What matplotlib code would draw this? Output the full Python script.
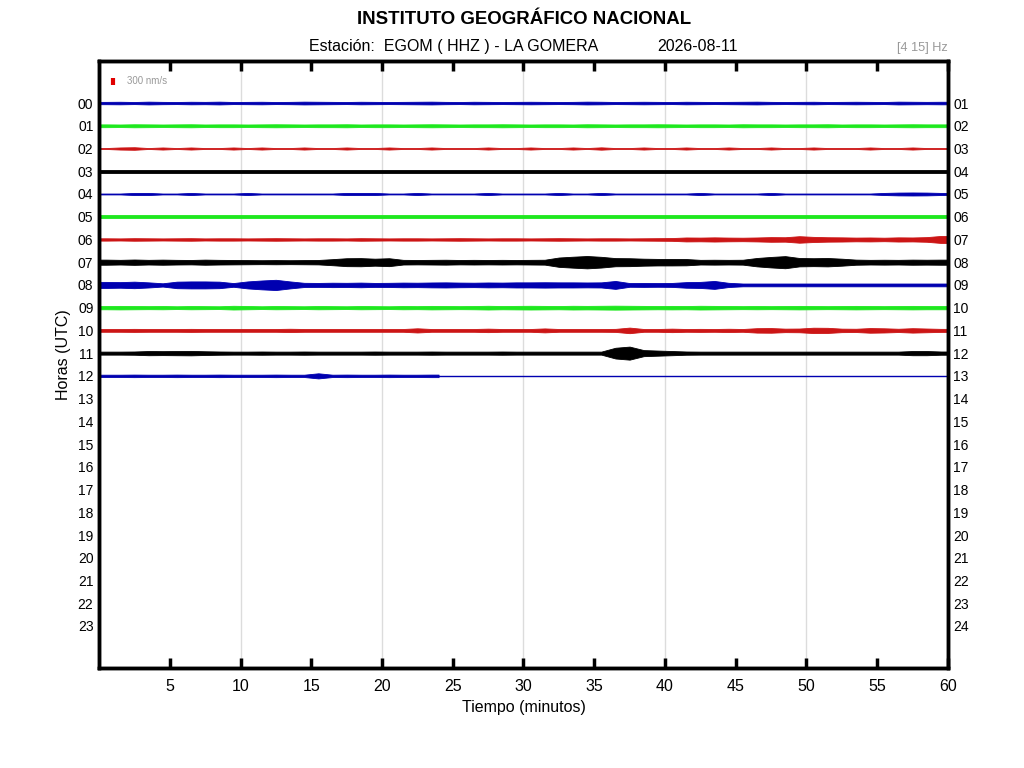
import numpy as np
import matplotlib
matplotlib.use("Agg")
import matplotlib.pyplot as plt

plt.rcParams['font.family'] = ['Liberation Sans', 'DejaVu Sans']

# half-amplitude envelope of each hourly trace, nm/s, one value per minute
hours = ["00", "01", "02", "03", "04", "05", "06", "07", "08", "09", "10", "11", "12"]
env = {
    "00": [50, 55, 45, 60, 50, 45, 55, 50, 60, 45, 50, 55, 45, 50, 60, 55, 50, 45, 55, 50,
           45, 50, 55, 60, 50, 45, 55, 50, 45, 50, 55, 50, 45, 50, 60, 55, 45, 50, 55, 50,
           45, 55, 50, 45, 50, 55, 60, 50, 45, 50, 55, 45, 50, 55, 50, 45, 60, 55, 50, 55],
    "01": [60, 55, 65, 60, 55, 60, 65, 55, 60, 60, 55, 60, 65, 60, 55, 60, 60, 65, 55, 60,
           60, 55, 60, 65, 60, 55, 60, 60, 65, 60, 55, 60, 60, 55, 65, 60, 55, 60, 60, 65,
           60, 55, 60, 60, 55, 65, 60, 60, 55, 60, 60, 65, 55, 60, 60, 55, 60, 65, 60, 60],
    "02": [20, 45, 55, 20, 45, 20, 45, 20, 20, 45, 20, 45, 20, 20, 45, 20, 20, 45, 20, 20,
           45, 20, 20, 45, 20, 20, 20, 45, 20, 20, 45, 20, 20, 45, 20, 50, 20, 20, 45, 20,
           20, 45, 20, 20, 45, 20, 20, 45, 20, 20, 45, 20, 20, 20, 45, 20, 20, 45, 20, 20],
    "03": [55, 55, 55, 55, 55, 55, 55, 55, 55, 55, 55, 55, 55, 55, 55, 55, 55, 55, 55, 55,
           55, 55, 55, 55, 55, 55, 55, 55, 55, 55, 55, 55, 55, 55, 55, 55, 55, 55, 55, 55,
           55, 55, 55, 55, 55, 55, 55, 55, 55, 55, 55, 55, 55, 55, 55, 55, 55, 55, 55, 55],
    "04": [20, 20, 45, 45, 20, 20, 45, 20, 20, 20, 45, 20, 20, 20, 20, 20, 20, 45, 45, 45,
           20, 20, 45, 20, 20, 20, 20, 45, 20, 20, 20, 20, 45, 20, 20, 45, 20, 20, 20, 20,
           20, 20, 45, 20, 20, 20, 20, 45, 20, 20, 20, 20, 20, 20, 20, 45, 60, 65, 60, 45],
    "05": [55, 55, 55, 55, 55, 55, 55, 55, 55, 55, 55, 55, 55, 55, 55, 55, 55, 55, 55, 55,
           55, 55, 55, 55, 55, 55, 55, 55, 55, 55, 55, 55, 55, 55, 55, 55, 55, 55, 55, 55,
           55, 55, 55, 55, 55, 55, 55, 55, 55, 55, 55, 55, 55, 55, 55, 55, 55, 55, 55, 55],
    "06": [50, 45, 55, 50, 45, 50, 55, 45, 50, 50, 45, 50, 55, 50, 45, 50, 50, 45, 55, 50,
           45, 50, 50, 45, 50, 55, 50, 45, 50, 50, 45, 50, 55, 50, 45, 50, 50, 45, 50, 55,
           60, 85, 80, 90, 80, 75, 85, 100, 95, 140, 110, 95, 90, 80, 85, 75, 90, 85, 100, 150],
    "07": [110, 100, 115, 100, 110, 100, 95, 110, 100, 95, 90, 85, 90, 85, 90, 95, 130, 170, 175, 150,
           170, 100, 95, 100, 105, 95, 100, 95, 100, 95, 100, 105, 200, 235, 265, 230, 175, 170, 150, 140,
           140, 135, 100, 105, 100, 105, 180, 225, 260, 180, 170, 180, 150, 110, 100, 105, 100, 110, 105, 110],
    "08": [130, 120, 140, 110, 70, 140, 150, 150, 140, 80, 150, 190, 220, 150, 90, 85, 95, 90, 100, 85,
           90, 100, 95, 105, 110, 100, 95, 105, 100, 110, 110, 115, 110, 110, 105, 110, 170, 80, 85, 80,
           85, 120, 130, 170, 90, 60, 60, 60, 60, 60, 60, 60, 60, 60, 60, 60, 60, 60, 60, 60],
    "09": [70, 75, 70, 65, 70, 60, 70, 65, 60, 80, 70, 60, 70, 65, 60, 70, 65, 60, 70, 65,
           60, 70, 65, 75, 70, 65, 70, 80, 70, 75, 80, 75, 70, 80, 75, 80, 85, 80, 75, 70,
           75, 70, 80, 75, 70, 65, 70, 65, 70, 75, 70, 65, 70, 75, 70, 65, 70, 75, 70, 70],
    "10": [60, 60, 65, 60, 60, 60, 65, 60, 60, 60, 60, 60, 60, 70, 60, 60, 60, 60, 60, 60,
           60, 60, 90, 60, 60, 60, 60, 75, 60, 60, 60, 85, 60, 60, 60, 60, 65, 120, 60, 60,
           75, 60, 65, 60, 70, 60, 95, 100, 75, 80, 115, 110, 75, 70, 100, 90, 70, 95, 80, 65],
    "11": [65, 65, 70, 90, 85, 90, 95, 80, 70, 65, 65, 70, 65, 65, 70, 65, 65, 65, 65, 70,
           65, 65, 65, 70, 65, 65, 65, 65, 70, 65, 65, 65, 65, 65, 65, 65, 230, 280, 130, 110,
           90, 70, 65, 65, 65, 65, 65, 65, 65, 65, 65, 65, 65, 65, 65, 65, 65, 90, 90, 70],
    "12": [50, 50, 55, 50, 50, 55, 50, 50, 55, 50, 50, 50, 55, 50, 50, 110, 50, 55, 50, 50,
           55, 50, 50, 55],
}
colors = ["#0000b0", "#1ee81e", "#cc1515", "#000000"]
hour_labels_left = ["%02d" % h for h in range(24)]
hour_labels_right = ["%02d" % h for h in range(1, 25)]
scale_nms = 300
gain = 0.001026   # hour-spacing units per nm/s

fig = plt.figure(figsize=(10.24, 7.68), dpi=100)
ax = fig.add_axes([0.0967, 0.1302, 0.829, 0.7904])

for i, h in enumerate(hours):
    a = np.array(env[h], float) * gain
    t = np.arange(len(a)) + 0.5
    t = np.concatenate([[0], t, [len(a)]])
    a = np.concatenate([[a[0]], a, [a[-1]]])
    col = colors[i % 4]
    ax.fill_between(t, i - a, i + a, color=col, lw=0.6, edgecolor=col)
    if t[-1] < 60:
        ax.plot([t[-1], 60], [i, i], color=col, lw=1)

# scale bar
ax.plot([1.0, 1.0], [-0.95 - scale_nms * gain / 2, -0.95 + scale_nms * gain / 2],
        color="#e00000", lw=3, solid_capstyle="butt")
ax.text(1.95, -0.95, "%d nm/s" % scale_nms, color="#999999", fontsize=7, va="center")

ax.set_xlim(0, 60)
ax.set_ylim(24.85, -1.85)
for g in range(10, 60, 10):
    ax.axvline(g, color="#dcdcdc", lw=1, zorder=0)
ax.set_xticks(range(5, 61, 5))
ax.tick_params(axis="x", direction="in", length=7, width=2.5, top=True, labelsize=11.5, pad=8)
ax.set_yticks(range(24))
ax.set_yticklabels(hour_labels_left)
ax.tick_params(axis="y", length=0, labelsize=10, pad=4)
for s in ax.spines.values():
    s.set_linewidth(2.5)

ax2 = ax.twinx()
ax2.set_ylim(ax.get_ylim())
ax2.set_yticks(range(24))
ax2.set_yticklabels(hour_labels_right)
ax2.tick_params(axis="y", length=0, labelsize=10, pad=4)
for s in ax2.spines.values():
    s.set_linewidth(2.5)

ax.set_xlabel("Tiempo (minutos)", fontsize=11.5, labelpad=4)
fig.text(0.062, 0.538, "Horas (UTC)", rotation=90, fontsize=11.5, ha="center", va="center")

fig.text(0.512, 0.975, "INSTITUTO GEOGRÁFICO NACIONAL", fontsize=13.4, fontweight="bold",
         ha="center", va="center")
fig.text(0.302, 0.94, "Estación:  EGOM ( HHZ ) - LA GOMERA", fontsize=11.5, ha="left", va="center")
fig.text(0.642, 0.94, "2026-08-11", fontsize=11.5, ha="left", va="center")
fig.text(0.926, 0.937, "[4 15] Hz", fontsize=9.2, color="#999999", ha="right", va="center")

fig.savefig("out.png", dpi=100)
